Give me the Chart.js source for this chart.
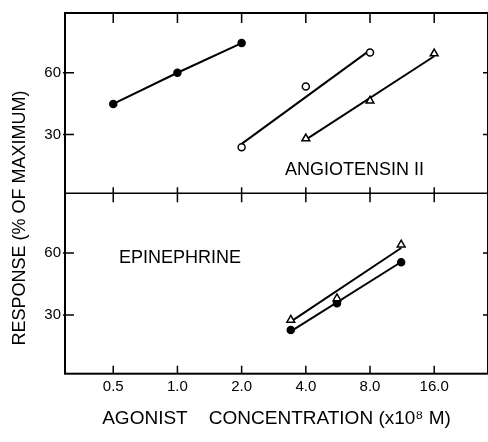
<!DOCTYPE html>
<html>
<head>
<meta charset="utf-8">
<script src="https://cdn.jsdelivr.net/npm/chart.js@4.4.1/dist/chart.umd.min.js"></script>
<style>
  html, body { margin: 0; padding: 0; background: #fff; overflow: hidden; }
  #wrap { width: 494px; height: 442px; }
</style>
</head>
<body>
<div id="wrap"><canvas id="chart"></canvas></div>
<script>
// Agonist concentration (x10^8 M), log axis
const xTicks = [0.5, 1, 2, 4, 8, 16];
const xTickLabels = ['0.5', '1.0', '2.0', '4.0', '8.0', '16.0'];
const yTicks = [30, 60];

// Angiotensin II panel (response, % of maximum)
const angioFilledX = [0.5, 1, 2];
const angioFilledY = [44.9, 60, 74.4];
const angioOpenX = [2, 4, 8];
const angioOpenY = [23.9, 53.3, 69.8];
const angioOpenFitY = [25.5, 71];   // fitted line at first/last x
const angioTriX = [4, 8, 16];
const angioTriY = [28.1, 46.4, 69.3];
const angioTriFitY = [27.6, 68];

// Epinephrine panel
const epiX = [3.4, 5.6, 11.2];
const epiTriY = [27.6, 38.0, 64.1];
const epiTriFitY = [26.8, 62.5];
const epiFilledY = [22.7, 35.7, 55.6];
const epiFilledFitY = [22, 55.7];

const FONT = "'Liberation Sans', Arial, sans-serif";

function pts(xs, ys) {
  return ys.map((y, i) => ({ x: xs[i], y }));
}
function ends(xs, ys) {
  return [{ x: xs[0], y: ys[0] }, { x: xs[xs.length - 1], y: ys[1] }];
}

function markers(data, axis, style, filled) {
  return {
    data, yAxisID: axis, showLine: false, order: 1,
    pointStyle: style,
    pointRadius: style === 'triangle' ? 4.5 : 3.5,
    pointBorderWidth: 1.5,
    pointBorderColor: '#000',
    pointBackgroundColor: filled ? '#000' : '#fff'
  };
}
function fitLine(data, axis) {
  return {
    data, yAxisID: axis, showLine: true, order: 2,
    borderColor: '#000', borderWidth: 2, pointRadius: 0
  };
}

const framePlugin = {
  id: 'frame',
  afterDatasetsDraw(chart) {
    const { ctx, chartArea: a, scales } = chart;
    const yt = scales.yTop, yb = scales.yBot;
    const upper = yt.top < yb.top ? yt : yb;
    const mid = upper.bottom;
    ctx.save();
    ctx.strokeStyle = '#000';
    ctx.lineWidth = 2;
    ctx.strokeRect(a.left, a.top, a.right - a.left, a.bottom - a.top);
    ctx.beginPath();
    ctx.moveTo(a.left, mid); ctx.lineTo(a.right, mid);
    ctx.lineWidth = 1.5;
    xTicks.forEach(v => {
      const px = scales.x.getPixelForValue(v);
      ctx.moveTo(px, a.top); ctx.lineTo(px, a.top + 10);
      ctx.moveTo(px, mid - 6); ctx.lineTo(px, mid + 9);
      ctx.moveTo(px, a.bottom); ctx.lineTo(px, a.bottom - 8);
    });
    [yt, yb].forEach(s => {
      yTicks.forEach(v => {
        const py = s.getPixelForValue(v);
        ctx.moveTo(a.left - 2, py); ctx.lineTo(a.left + 9, py);
        ctx.moveTo(a.right, py); ctx.lineTo(a.right - 5, py);
      });
    });
    ctx.stroke();
    ctx.restore();
  },
  afterDraw(chart) {
    const { ctx } = chart;
    ctx.save();
    ctx.fillStyle = '#000';
    ctx.font = '18px ' + FONT;
    ctx.textBaseline = 'middle';
    ctx.textAlign = 'left';
    ctx.fillText('ANGIOTENSIN II', 285, 170);
    ctx.fillText('EPINEPHRINE', 119, 258.5);
    ctx.translate(20, 218);
    ctx.rotate(-Math.PI / 2);
    ctx.textAlign = 'center';
    ctx.fillText('RESPONSE (% OF MAXIMUM)', 0, 0);
    ctx.restore();
  }
};

function yScale() {
  return {
    type: 'linear', position: 'left', stack: 'resp', stackWeight: 1,
    min: 1.5, max: 89,
    grid: { display: false, drawTicks: false }, border: { display: false },
    afterBuildTicks: s => { s.ticks = yTicks.map(v => ({ value: v })); },
    afterFit: s => { s.width = 61; },
    ticks: { color: '#000', font: { family: FONT, size: 15 }, padding: 4 }
  };
}

new Chart(document.getElementById('chart').getContext('2d'), {
  type: 'line',
  data: {
    datasets: [
      markers(pts(angioFilledX, angioFilledY), 'yTop', 'circle', true),
      fitLine(pts(angioFilledX, angioFilledY), 'yTop'),
      markers(pts(angioOpenX, angioOpenY), 'yTop', 'circle', false),
      fitLine(ends(angioOpenX, angioOpenFitY), 'yTop'),
      markers(pts(angioTriX, angioTriY), 'yTop', 'triangle', false),
      fitLine(ends(angioTriX, angioTriFitY), 'yTop'),
      markers(pts(epiX, epiTriY), 'yBot', 'triangle', false),
      fitLine(ends(epiX, epiTriFitY), 'yBot'),
      markers(pts(epiX, epiFilledY), 'yBot', 'circle', true),
      fitLine(ends(epiX, epiFilledFitY), 'yBot')
    ]
  },
  options: {
    responsive: true,
    maintainAspectRatio: false,
    animation: false,
    layout: { padding: { left: 4, top: 13, right: 4, bottom: 12 } },
    plugins: { legend: { display: false }, tooltip: { enabled: false } },
    scales: {
      x: {
        type: 'logarithmic', min: 0.297, max: 28.6,
        grid: { display: false, drawTicks: false }, border: { display: false },
        afterBuildTicks: s => { s.ticks = xTicks.map(v => ({ value: v })); },
        ticks: {
          color: '#000', font: { family: FONT, size: 15 }, padding: 4.5,
          maxRotation: 0, autoSkip: false,
          callback: (v, i) => xTickLabels[i]
        },
        title: {
          display: true, text: 'AGONIST    CONCENTRATION (x10⁸ M)',
          color: '#000', font: { family: FONT, size: 19 },
          padding: { top: 6.5, bottom: 0 }
        }
      },
      // stacked axes: the first listed sits at the bottom
      yBot: yScale(),
      yTop: yScale()
    }
  },
  plugins: [framePlugin]
});
</script>
</body>
</html>
